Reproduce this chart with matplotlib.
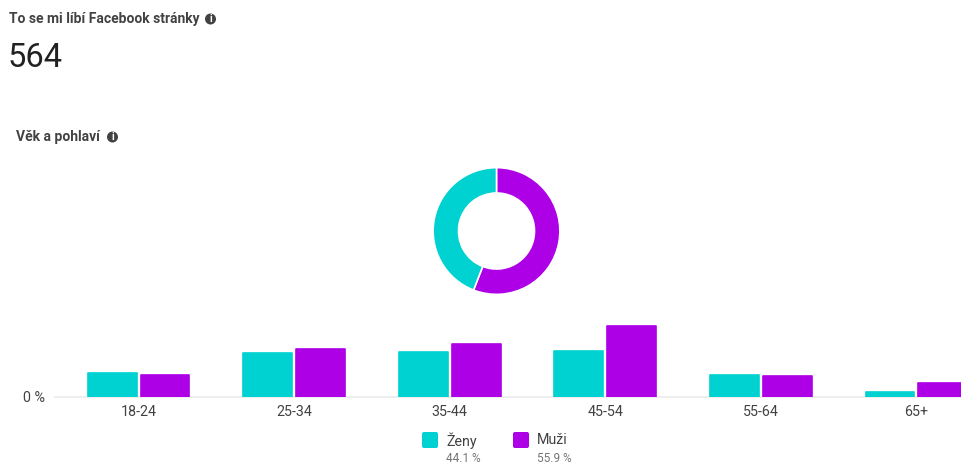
import numpy as np
import matplotlib
matplotlib.use('Agg')
import matplotlib.pyplot as plt
from matplotlib.patches import Circle, FancyBboxPatch

plt.rcParams['font.family'] = ['Roboto', 'DejaVu Sans']

title = 'To se mi líbí Facebook stránky'
total_likes = '564'
subtitle = 'Věk a pohlaví'
age_groups = ['18-24', '25-34', '35-44', '45-54', '55-64', '65+']
women = [5.9, 10.6, 10.8, 11.0, 5.2, 1.1]
men = [5.4, 11.7, 12.7, 17.1, 5.0, 3.5]
genders = ['Ženy', 'Muži']
gender_share = [44.1, 55.9]

TEAL = '#00d1d1'
PURPLE = '#ae00e6'
DARK = '#424242'

W, H = 962, 463
fig = plt.figure(figsize=(W / 100, H / 100), dpi=100)


def px_axes(left, top, right, bottom):
    return fig.add_axes([left / W, 1 - bottom / H, (right - left) / W, (bottom - top) / H])


# overlay in pixel coords for headers and legend
bg = fig.add_axes([0, 0, 1, 1])
bg.set_xlim(0, W)
bg.set_ylim(H, 0)
bg.axis('off')


def info_icon(x, y):
    bg.add_patch(Circle((x, y), 5.5, color=DARK, lw=0))
    bg.text(x, y + 0.3, 'i', color='white', fontsize=7.5, fontweight='bold', ha='center', va='center')


bg.text(9, 19, title, fontsize=10, fontweight='bold', color=DARK, va='center')
info_icon(210.5, 19)
bg.text(8, 58, total_likes, fontsize=23.5, color='#212121', va='center')
bg.text(16, 137.5, subtitle, fontsize=10, fontweight='bold', color=DARK, va='center')
info_icon(112.5, 137)

# bars
ax = px_axes(55, 310, 962, 397)
x = np.arange(len(age_groups))
ax.bar(x - 0.17, women, 0.314, color=TEAL, edgecolor=TEAL, linewidth=1.2, joinstyle='round', zorder=3)
ax.bar(x + 0.17, men, 0.314, color=PURPLE, edgecolor=PURPLE, linewidth=1.2, joinstyle='round', zorder=3)
ax.set_xlim(-0.537, 5.293)
ax.set_ylim(0, 21)
ax.set_xticks(x, age_groups)
ax.set_yticks([0], ['0 %'])
ax.tick_params(length=0, labelsize=10.3, labelcolor=DARK)
ax.tick_params(axis='x', pad=6)
ax.tick_params(axis='y', pad=7)
for side in ['top', 'left', 'right']:
    ax.spines[side].set_visible(False)
ax.spines['bottom'].set_color('#eeeeee')
ax.spines['bottom'].set_linewidth(1.5)
ax.patch.set_alpha(0)

# donut
dax = px_axes(496.5 - 64, 231 - 64, 496.5 + 64, 231 + 64)
dax.pie(gender_share[::-1], colors=[PURPLE, TEAL], startangle=90, counterclock=False, radius=1,
        wedgeprops={'width': 0.4, 'edgecolor': 'white', 'linewidth': 1.2})
dax.set_xlim(-1.01, 1.01)
dax.set_ylim(-1.01, 1.01)

# legend
for lx, name, share, col in zip([422, 513], genders, gender_share, [TEAL, PURPLE]):
    bg.add_patch(FancyBboxPatch((lx + 2, 434), 12, 12, boxstyle='round,pad=2,rounding_size=2', color=col, lw=0))
    bg.text(lx + 24, 440.5, name, fontsize=10.3, color=DARK, va='center')
    bg.text(lx + 24, 458, f'{share} %', fontsize=8.5, color='#757575', va='center')

fig.savefig('out.png', dpi=100)
